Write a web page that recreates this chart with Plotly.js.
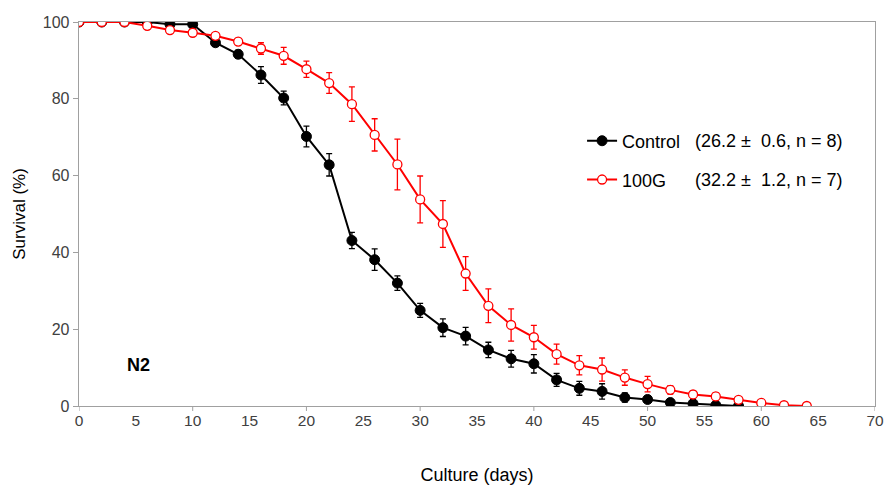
<!DOCTYPE html>
<html>
<head>
<meta charset="utf-8">
<script src="https://cdn.plot.ly/plotly-3.0.1.min.js"></script>
<style>html,body{margin:0;padding:0;background:#fff;}#chart{width:885px;height:488px;}</style>
</head>
<body>
<div id="chart"></div>
<script>
var controlDays = [0,2,4,6,8,10,12,14,16,18,20,22,24,26,28,30,32,34,36,38,40,42,44,46,48,50,52,54,56,58];
var controlSurvival = [100,100,100,100,99.4,99.4,94.6,91.6,86.2,80.2,70.2,62.8,43.1,38.1,32,24.9,20.4,18.2,14.6,12.3,11,6.8,4.6,3.8,2.2,1.7,0.9,0.6,0.2,0];
var controlErr = [0,0,0,0,0.3,0.3,0.8,1,2.2,1.8,2.7,2.9,2.1,2.8,1.9,1.8,2.3,2.3,2,2.2,2.4,1.7,1.8,2,1.2,0.6,0.5,0.4,0.3,0];

var g100Days = [0,2,4,6,8,10,12,14,16,18,20,22,24,26,28,30,32,34,36,38,40,42,44,46,48,50,52,54,56,58,60,62,64];
var g100Survival = [100,100,100,99,97.9,97.2,96.4,94.9,93.1,91.2,87.7,84.1,78.6,70.6,62.9,53.8,47.4,34.5,26.1,21.1,17.9,13.5,10.6,9.5,7.4,5.7,4.2,3.0,2.5,1.6,0.8,0.2,0];
var g100Err = [0,0,0,0.3,0.4,0.4,0.5,0.8,1.5,2.2,2.1,2.7,4.5,4.2,6.6,6.1,6.1,4.4,4.4,4.2,3.1,2.6,2.5,3,2,2,1.1,1,1,0.5,0.3,0,0];

var seriesNames = ['Control', '100G'];
var statsText = ['(26.2 \u00B1  0.6, n = 8)', '(32.2 \u00B1  1.2, n = 7)'];
var strainLabel = 'N2';

var FONT = 'Liberation Sans, Arial, sans-serif';

var traces = [
  {
    x: controlDays, y: controlSurvival, name: seriesNames[0], type: 'scatter', mode: 'lines+markers',
    line: {color: '#000000', width: 2},
    marker: {symbol: 'circle', size: 10, color: '#000000', line: {color: '#000000', width: 1}},
    error_y: {type: 'data', array: controlErr, visible: true, color: '#000000', thickness: 1.3, width: 3},
    legend: 'legend'
  },
  {
    x: g100Days, y: g100Survival, name: seriesNames[1], type: 'scatter', mode: 'lines+markers',
    line: {color: '#ff0000', width: 2},
    marker: {symbol: 'circle', size: 9, color: '#ffffff', line: {color: '#ff0000', width: 1.3}},
    error_y: {type: 'data', array: g100Err, visible: true, color: '#ff0000', thickness: 1.3, width: 3},
    legend: 'legend2'
  }
];

var layout = {
  width: 885, height: 488,
  margin: {l: 79, r: 10, t: 22, b: 82},
  paper_bgcolor: '#ffffff', plot_bgcolor: '#ffffff',
  font: {family: FONT, size: 16, color: '#404040'},
  showlegend: true,
  legend: {x: 0.632, y: 0.69, xanchor: 'left', yanchor: 'middle', bgcolor: 'rgba(0,0,0,0)',
           font: {family: FONT, size: 18, color: '#000000'}, itemwidth: 30},
  legend2: {x: 0.632, y: 0.589, xanchor: 'left', yanchor: 'middle', bgcolor: 'rgba(0,0,0,0)',
           font: {family: FONT, size: 18, color: '#000000'}, itemwidth: 30},
  xaxis: {
    range: [0, 70], tickvals: [0,5,10,15,20,25,30,35,40,45,50,55,60,65,70],
    showgrid: false, zeroline: false, showline: true, linecolor: '#a0a0a0', linewidth: 1.3,
    mirror: true, ticks: '', tickfont: {family: FONT, size: 15.5, color: '#404040'},
    title: {text: 'Culture (days)', font: {family: FONT, size: 18, color: '#000000'}, standoff: 40}
  },
  yaxis: {
    range: [0, 100], tickvals: [0,20,40,60,80,100],
    showgrid: false, zeroline: false, showline: true, linecolor: '#a0a0a0', linewidth: 1.3,
    mirror: true, ticks: 'outside', ticklen: 5, tickcolor: '#a0a0a0', tickwidth: 1,
    tickfont: {family: FONT, size: 16, color: '#404040'},
    title: {text: 'Survival (%)', font: {family: FONT, size: 17, color: '#000000'}, standoff: 12}
  },
  shapes: [],
  annotations: [
    {xref: 'paper', yref: 'paper', x: 0.771, y: 0.69, xanchor: 'left', yanchor: 'middle', showarrow: false,
     text: statsText[0], font: {family: FONT, size: 18, color: '#000000'}},
    {xref: 'paper', yref: 'paper', x: 0.771, y: 0.589, xanchor: 'left', yanchor: 'middle', showarrow: false,
     text: statsText[1], font: {family: FONT, size: 18, color: '#000000'}},
    {xref: 'x', yref: 'y', x: 5.2, y: 10.8, xanchor: 'center', yanchor: 'middle', showarrow: false,
     text: '<b>' + strainLabel + '</b>', font: {family: FONT, size: 18, color: '#000000'}}
  ]
};
// x tick marks only every 10 days
for (var d = 0; d <= 70; d += 10) {
  layout.shapes.push({type: 'line', xref: 'x', yref: 'paper', x0: d, x1: d, y0: 0, y1: -0.013,
                      line: {color: '#a0a0a0', width: 1}});
}

Plotly.newPlot('chart', traces, layout, {displayModeBar: false, staticPlot: true});
</script>
</body>
</html>
